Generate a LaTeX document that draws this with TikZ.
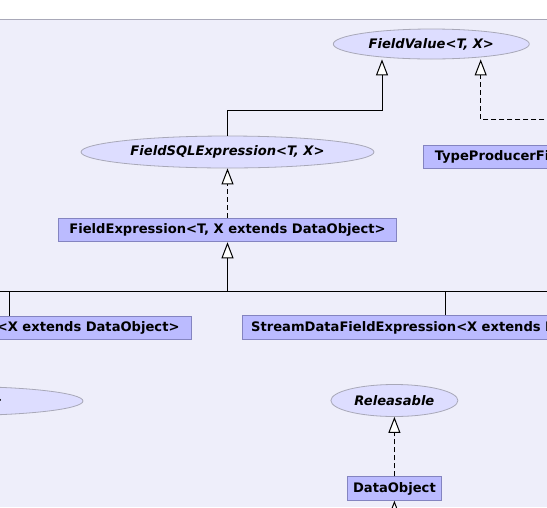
\documentclass[tikz,border=0pt]{standalone}
\usepackage{fontspec}
\setmainfont{DejaVu Sans}
\usetikzlibrary{arrows.meta,shapes.geometric}
\definecolor{bgc}{HTML}{EEEEFA}
\definecolor{boxfill}{HTML}{BBBBFF}
\definecolor{boxdraw}{HTML}{8484C0}
\definecolor{ellfill}{HTML}{DDDDFF}
\definecolor{elldraw}{HTML}{A8A8B8}
\definecolor{framec}{HTML}{A8A8B8}
\begin{document}
\begin{tikzpicture}[x=1pt,y=-1pt,
  every node/.style={font=\fontsize{13.1}{15}\selectfont\bfseries},
  cls/.style={rectangle, draw=boxdraw, fill=boxfill, line width=1pt, inner ysep=0pt, inner xsep=6pt, minimum height=23.5pt},
  ifc/.style={ellipse, draw=elldraw, fill=ellfill, line width=0.8pt, inner sep=0pt, font=\fontsize{13.1}{15}\selectfont\bfseries\itshape},
  ifctext/.style={font=\fontsize{13.1}{15}\selectfont\bfseries\itshape, inner sep=0pt},
  inh/.style={-{Triangle[length=16pt,width=12pt,fill=white]}, line width=1pt, draw=black},
  impl/.style={inh, dash pattern=on 5pt off 3pt},
  link/.style={line width=1pt, draw=black}]
\path[use as bounding box] (0,0) rectangle (547,507);
\clip (0,0) rectangle (547,507);
\fill[white] (0,0) rectangle (547,19);
\fill[bgc] (0,19) rectangle (547,507);
\draw[framec, line width=1pt] (0,19) -- (547,19);

% nodes
\node[ifc, minimum width=196pt, minimum height=30pt] (fv) at (431.3,44) {FieldValue<T, X>};
\node[ifc, minimum width=293pt, minimum height=32pt] (fsql) at (227.5,152) {FieldSQLExpression<T, X>};
\node[cls, anchor=west, text width=280pt, align=left, inner xsep=11pt] (tp) at (423.3,157) {TypeProducerFi};
\node[cls, minimum width=338pt] (fe) at (227.5,230) {FieldExpression<T, X extends DataObject>};
\node[cls, anchor=east, text width=260pt, align=right, inner xsep=11.7pt] (lb) at (191.7,328) {<X extends DataObject>};
\node[cls, anchor=west, text width=400pt, align=left, inner xsep=9pt] (rb) at (241.7,327.7) {StreamDataFieldExpression<X extends D};
\node[ifc, minimum width=250pt, minimum height=29pt] (le) at (-42,401) {};
\node[ifctext, anchor=east] (lt) at (2.5,401) {>};
\node[ifc, minimum width=127pt, minimum height=32pt] (rel) at (394.4,400.5) {Releasable};
\node[cls, minimum width=94.7pt] (do) at (394.4,488.5) {DataObject};

% connectors
\coordinate (j1) at (382,110);
\draw[inh] (fsql.north) |- (j1) -- (j1 |- fv.south);
\coordinate (j2) at (480.7,119.3);
\draw[impl] (tp.north) |- (j2) -- (j2 |- fv.south);
\draw[impl] (fe.north) -- (fsql.south);
\coordinate (bus) at (227.5,291.7);
\coordinate (busL) at (-10,291.7);
\coordinate (busR) at (560,291.7);
\draw[link] (busL) -- (busR);
\draw[inh] (bus) -- (fe.south);
\coordinate (lx) at (9.3,291.7);
\draw[link] (lx) -- (lx |- lb.north);
\coordinate (rx) at (445.7,291.7);
\draw[link] (rx) -- (rx |- rb.north);
\draw[impl] (do.north) -- (rel.south);
\coordinate (dob) at (394.4,540);
\draw[inh] (dob) -- (do.south);
\end{tikzpicture}
\end{document}
